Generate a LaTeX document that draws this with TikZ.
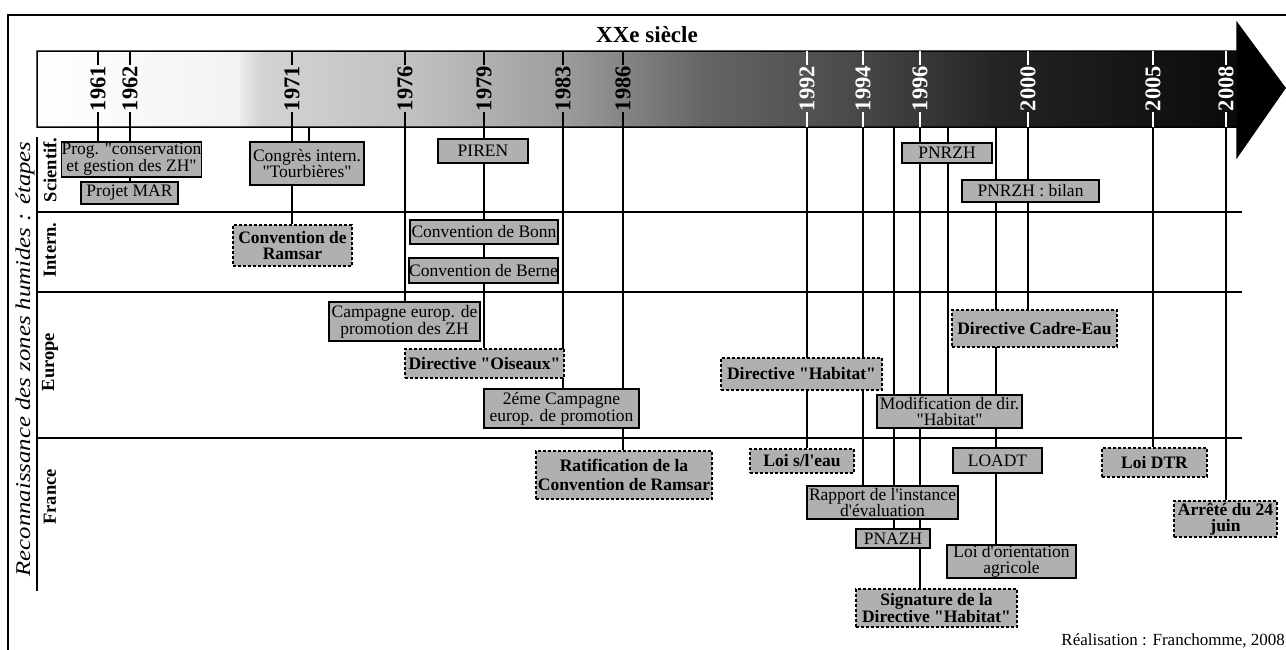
\documentclass[tikz,border=0pt]{standalone}
\usepackage{fontspec}
\setmainfont{Liberation Serif}[Ligatures=TeXOff]
\usepackage{graphicx}
\definecolor{boxgray}{gray}{0.69}
\pgfdeclarelayer{bg}
\pgfsetlayers{bg,main}
\begin{document}
\begin{tikzpicture}[x=1pt,y=-1pt,
  evbox/.style={draw, line width=1.6pt, fill=boxgray, inner sep=0pt, align=center,
    font=\fontsize{17.5}{15.5}\selectfont},
  evdash/.style={evbox, dash pattern=on 3pt off 2pt, font=\fontsize{17.5}{15.5}\selectfont\bfseries},
  conn/.style={line width=1.4pt},
  sepline/.style={line width=1.5pt},
  yearlab/.style={rotate=90, font=\fontsize{22.5}{22.5}\selectfont\bfseries, inner sep=1pt},
  rowlab/.style={rotate=90, font=\fontsize{18.5}{18.5}\selectfont\bfseries, inner sep=0pt},
]
\useasboundingbox (0,0) rectangle (1286,649);
% outer frame
\draw[line width=1.5pt] (8,660) -- (8,15) -- (1295,15);

% time bar shading
\shade[left color=white, right color=black!5] (37,51) rectangle (241,127);
\shade[left color=black!8, right color=black!17] (240,51) rectangle (261,127);
\shade[left color=black!17, right color=black!25] (260,51) rectangle (421,127);
\shade[left color=black!25, right color=black!38] (420,51) rectangle (561,127);
\shade[left color=black!38, right color=black!60] (560,51) rectangle (701,127);
\shade[left color=black!60, right color=black!71] (700,51) rectangle (851,127);
\shade[left color=black!71, right color=black!86] (850,51) rectangle (1001,127);
\shade[left color=black!86, right color=black!96] (1000,51) rectangle (1238,127);
\fill[black] (1237,23) -- (1285,88) -- (1237,157) -- cycle;
\draw[line width=1.5pt] (37,51) -- (1237,51) -- (1237,23) -- (1285,88) -- (1237,157) -- (1237,127) -- (37,127) -- cycle;

\node[font=\fontsize{23}{23}\selectfont\bfseries] (siecle) at (647,35) {XXe siècle};

% years
\foreach \x/\yr/\col in {98/1961/black,130/1962/black,292/1971/black,405/1976/black,
  484/1979/black,563/1983/black,623/1986/black,807/1992/white,863/1994/white,
  920/1996/white,1028/2000/white,1153/2005/white,1226/2008/white}{
  \coordinate (top\yr) at (\x,51);
  \coordinate (bot\yr) at (\x,127);
  \node[yearlab, text=\col] (y\yr) at (\x,88.5) {\yr};
  \draw[conn, draw=\col] (top\yr) -- (y\yr.east);
  \draw[conn, draw=\col] (y\yr.west) -- (bot\yr);
}
\coordinate (c72) at (309,127);
\coordinate (c95) at (894,127);
\coordinate (c97) at (948,127);
\coordinate (c99) at (996,127);

% left titles and row structure
\node[rotate=90, font=\fontsize{21}{21}\selectfont\itshape, inner sep=0pt] (titre) at (25,359)
  {\scalebox{1.18}[1]{Reconnaissance des zones humides : étapes}};
\coordinate (vtop) at (37,137);
\coordinate (vbot) at (37,591);
\draw[sepline] (vtop) -- (vbot);
\coordinate (s1l) at (37,212); \coordinate (s1r) at (1242,212);
\coordinate (s2l) at (37,292); \coordinate (s2r) at (1242,292);
\coordinate (s3l) at (37,438); \coordinate (s3r) at (1242,438);
\draw[sepline] (s1l) -- (s1r);
\draw[sepline] (s2l) -- (s2r);
\draw[sepline] (s3l) -- (s3r);
\node[rowlab] (rsci) at (50,170) {Scientif.};
\node[rowlab] (rint) at (50,250) {Intern.};
\node[rowlab] (reur) at (50,362) {Europe};
\node[rowlab] (rfra) at (50,497) {France};

% events
\node[evbox, minimum width=139pt, minimum height=35pt] (prog) at (131.5,159.5) {Prog. "conservation\\et gestion des ZH"};
\node[evbox, minimum width=97pt, minimum height=22pt] (mar) at (129.5,193) {Projet MAR};
\node[evbox, minimum width=114pt, minimum height=43pt] (congres) at (307,163.5) {Congrès intern.\\"Tourbières"};
\node[evbox, minimum width=90pt, minimum height=24pt] (piren) at (483,151) {PIREN};
\node[evbox, minimum width=90pt, minimum height=20pt] (pnrzh) at (947,153) {PNRZH};
\node[evbox, minimum width=137pt, minimum height=22pt] (bilan) at (1030.5,191) {PNRZH : bilan};
\node[evdash, minimum width=119pt, minimum height=41pt] (ramsar) at (292.5,245.5) {Convention de\\Ramsar};
\node[evbox, minimum width=148pt, minimum height=24pt] (bonn) at (484,232) {Convention de Bonn};
\node[evbox, minimum width=147pt, minimum height=25pt] (berne) at (483.5,270.5) {Convention de Berne};
\node[evbox, minimum width=151pt, minimum height=39pt] (campagne) at (404.5,321.5) {Campagne europ. de\\promotion des ZH};
\node[evdash, minimum width=159pt, minimum height=29pt] (oiseaux) at (484.5,363.5) {Directive "Oiseaux"};
\node[evbox, minimum width=155pt, minimum height=39pt] (campagne2) at (561.5,408.5) {2éme Campagne\\europ. de promotion};
\node[evdash, minimum width=161pt, minimum height=32pt] (habitat) at (801.5,374) {Directive "Habitat"};
\node[evdash, minimum width=165pt, minimum height=37pt] (cadre) at (1034.5,328.5) {Directive Cadre-Eau};
\node[evbox, minimum width=145pt, minimum height=33pt] (modif) at (949.5,411.5) {Modification de dir.\\"Habitat"};
\node[evdash, minimum width=176pt, minimum height=48pt, font=\fontsize{17.5}{19}\selectfont\bfseries] (ratif) at (624,475) {Ratification de la\\Convention de Ramsar};
\node[evdash, minimum width=104pt, minimum height=24pt] (loieau) at (802,461) {Loi s/l'eau};
\node[evbox, minimum width=151pt, minimum height=33pt] (rapport) at (882.5,502.5) {Rapport de l'instance\\d'évaluation};
\node[evbox, minimum width=89pt, minimum height=25pt] (loadt) at (997.5,460.5) {LOADT};
\node[evdash, minimum width=105pt, minimum height=29pt] (loidtr) at (1154.5,462.5) {Loi DTR};
\node[evbox, minimum width=74pt, minimum height=19pt] (pnazh) at (893,538.5) {PNAZH};
\node[evbox, minimum width=129pt, minimum height=33pt] (loiorient) at (1011.5,561.5) {Loi d'orientation\\agricole};
\node[evdash, minimum width=161pt, minimum height=38pt] (signature) at (936.5,608) {Signature de la\\Directive "Habitat"};
\node[evdash, minimum width=103pt, minimum height=36pt] (arrete) at (1225.5,519) {Arrêté du 24\\juin};

\node[anchor=east, font=\fontsize{17}{17}\selectfont, inner sep=0pt] (credit) at (1285,641) {Réalisation : Franchomme, 2008};

% connectors (behind boxes)
\begin{pgfonlayer}{bg}
\draw[conn] (bot1961) -- (bot1961 |- prog.north);
\draw[conn] (bot1962) -- (bot1962 |- mar.north);
\draw[conn] (bot1971) -- (bot1971 |- ramsar.north);
\draw[conn] (c72) -- (c72 |- congres.north);
\draw[conn] (bot1976) -- (bot1976 |- campagne.north);
\draw[conn] (bot1979) -- (bot1979 |- oiseaux.north);
\draw[conn] (bot1983) -- (bot1983 |- campagne2.north);
\draw[conn] (bot1986) -- (bot1986 |- ratif.north);
\draw[conn] (bot1992) -- (bot1992 |- loieau.north);
\draw[conn] (bot1994) -- (bot1994 |- rapport.north);
\draw[conn] (c95) -- (c95 |- pnazh.north);
\draw[conn] (bot1996) -- (bot1996 |- signature.north);
\draw[conn] (c97) -- (c97 |- modif.north);
\draw[conn] (c99) -- (c99 |- loiorient.north);
\draw[conn] (bot2000) -- (bot2000 |- cadre.north);
\draw[conn] (bot2005) -- (bot2005 |- loidtr.north);
\draw[conn] (bot2008) -- (bot2008 |- arrete.north);
\end{pgfonlayer}
\end{tikzpicture}
\end{document}
